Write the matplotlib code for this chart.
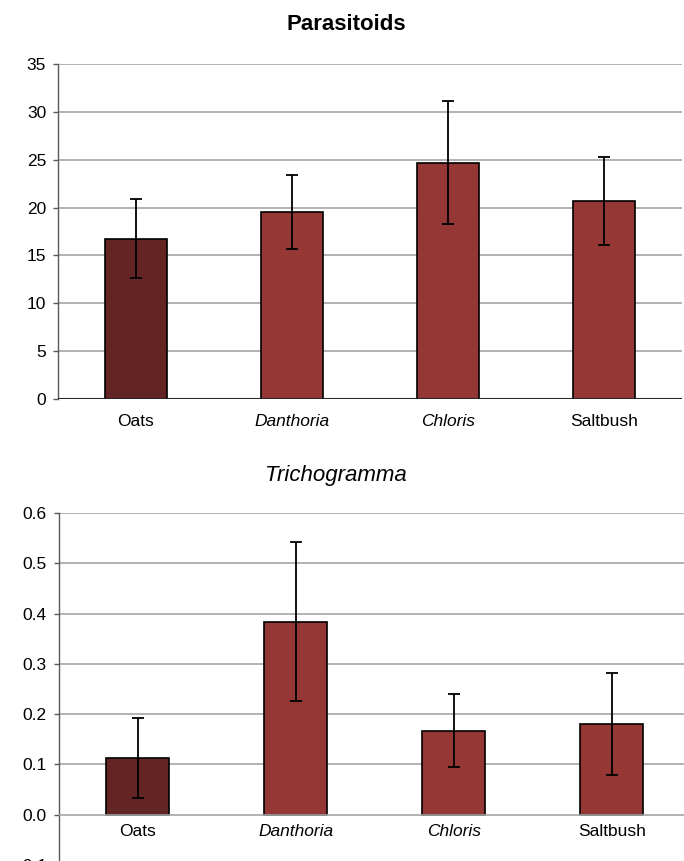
import matplotlib
matplotlib.use("Agg")
import matplotlib.pyplot as plt
import matplotlib.transforms as mtransforms
from matplotlib.ticker import FuncFormatter

plt.rcParams['font.family'] = ['Liberation Sans', 'DejaVu Sans']

categories = ['Oats', 'Danthoria', 'Chloris', 'Saltbush']
cat_italic = [False, True, True, False]
para_mean = [16.75, 19.55, 24.7, 20.7]
para_err = [4.1, 3.85, 6.45, 4.6]
tri_mean = [0.113, 0.384, 0.167, 0.180]
tri_err = [0.079, 0.158, 0.073, 0.102]
para_ticks = [0, 5, 10, 15, 20, 25, 30, 35]
tri_ticks = [-0.1, 0.0, 0.1, 0.2, 0.3, 0.4, 0.5, 0.6]

bar_colors = ['#632523', '#953735', '#953735', '#953735']
grid_color = '#a6a6a6'
spine_color = '#595959'

W, H = 684, 861
fig = plt.figure(figsize=(W / 100, H / 100), dpi=100)

def make_axes(left_px, right_px, top_px, bottom_px):
    return fig.add_axes([left_px / W, (H - bottom_px) / H,
                         (right_px - left_px) / W, (bottom_px - top_px) / H])

def style(ax, ticks, ylim, fmt, zero_color, zero_lw, label_off):
    x = list(range(len(categories)))
    ax.set_xlim(-0.5, len(categories) - 0.5)
    ax.set_ylim(*ylim)
    ax.set_yticks(ticks)
    ax.yaxis.set_major_formatter(FuncFormatter(fmt))
    for t in ticks:
        if t > ylim[0] + 1e-9 and abs(t) > 1e-9:
            ax.axhline(t, color=grid_color, lw=1.2, zorder=0)
    ax.axhline(0, color=zero_color, lw=zero_lw, zorder=3)
    for s in ['top', 'right', 'bottom']:
        ax.spines[s].set_visible(False)
    ax.spines['left'].set_color(spine_color)
    ax.spines['left'].set_linewidth(1.0)
    ax.tick_params(axis='y', direction='out', length=3.5, width=1.0,
                   color=spine_color, labelsize=12.5, pad=5)
    ax.set_xticks([])
    offset = mtransforms.offset_copy(ax.transData, fig=fig, x=0, y=-label_off, units='points')
    for xi, lab, it in zip(x, categories, cat_italic):
        ax.text(xi, 0, lab, transform=offset, ha='center', va='top',
                fontsize=12.5, style='italic' if it else 'normal', clip_on=False)
    return x

# Top chart: Parasitoids
ax1 = make_axes(58, 682, 64, 399)
x = style(ax1, para_ticks, (0, 35), lambda v, p: f"{v:.0f}", '#262626', 1.5, 10.5)
ax1.bar(x, para_mean, width=0.4, color=bar_colors, edgecolor='black',
        linewidth=1.2, zorder=2)
ax1.errorbar(x, para_mean, yerr=para_err, fmt='none', ecolor='black',
             elinewidth=1.3, capsize=4, capthick=1.3, zorder=4)
fig.text(346 / W, 1 - 25 / H, 'Parasitoids', ha='center', va='center',
         fontsize=16, fontweight='bold')

# Bottom chart: Trichogramma
ax2 = make_axes(58.8, 690.8, 513, 865)
x = style(ax2, tri_ticks, (-0.1, 0.6), lambda v, p: f"{v:.1f}", grid_color, 1.2, 6.5)
ax2.bar(x, tri_mean, width=0.4, color=bar_colors, edgecolor='black',
        linewidth=1.2, zorder=2)
ax2.errorbar(x, tri_mean, yerr=tri_err, fmt='none', ecolor='black',
             elinewidth=1.3, capsize=4, capthick=1.3, zorder=4)
fig.text(336 / W, 1 - 476 / H, 'Trichogramma', ha='center', va='center',
         fontsize=16, style='italic')

fig.savefig('out.png', dpi=100)
